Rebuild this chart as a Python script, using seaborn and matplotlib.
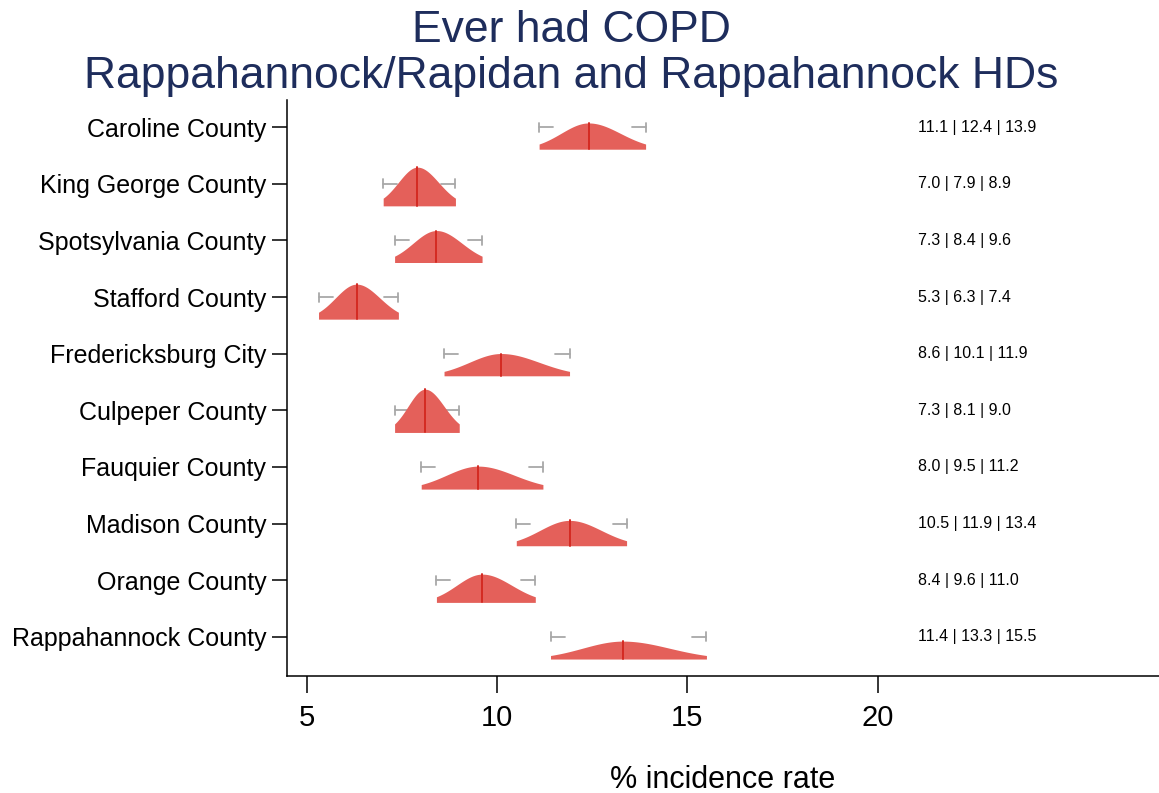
import numpy as np
import pandas as pd
import matplotlib
matplotlib.use("Agg")
import matplotlib.pyplot as plt
import seaborn as sns

# Values: lower | mean | upper
counties = ["Caroline County", "King George County", "Spotsylvania County",
            "Stafford County", "Fredericksburg City", "Culpeper County",
            "Fauquier County", "Madison County", "Orange County",
            "Rappahannock County"]
lower = [11.1, 7.0, 7.3, 5.3, 8.6, 7.3, 8.0, 10.5, 8.4, 11.4]
mean = [12.4, 7.9, 8.4, 6.3, 10.1, 8.1, 9.5, 11.9, 9.6, 13.3]
upper = [13.9, 8.9, 9.6, 7.4, 11.9, 9.0, 11.2, 13.4, 11.0, 15.5]

df = pd.DataFrame({"county": counties, "lower": lower, "mean": mean, "upper": upper})

sns.set_theme(style="ticks")
plt.rcParams["font.family"] = ["Liberation Sans", "DejaVu Sans"]

fig = plt.figure(figsize=(11.59, 7.93), dpi=100)
ax = fig.add_axes([0.2476, 0.1475, 0.7524, 0.7265])

fill_col = "#e4605a"
line_col = "#d42a22"
gray = "#a8a8a8"
z = 1.8
scale = 0.83 * 1.96 / z   # rows per density unit
base_off = 0.39           # baseline offset below the row centre
cap_len = 0.37

for i, r in df.iterrows():
    s1 = (r["mean"] - r["lower"]) / z
    s2 = (r["upper"] - r["mean"]) / z
    peak = 2 / (np.sqrt(2 * np.pi) * (s1 + s2))
    xs = np.linspace(r["lower"], r["upper"], 200)
    sd = np.where(xs < r["mean"], s1, s2)
    dens = peak * np.exp(-0.5 * ((xs - r["mean"]) / sd) ** 2)
    base = i + base_off
    # short whiskers with caps at the interval ends
    ax.plot([r["lower"], r["lower"] + cap_len], [i, i], color=gray, lw=1.3, zorder=1)
    ax.plot([r["upper"] - cap_len, r["upper"]], [i, i], color=gray, lw=1.3, zorder=1)
    ax.plot([r["lower"], r["lower"]], [i - 0.08, i + 0.08], color=gray, lw=1.3, zorder=1)
    ax.plot([r["upper"], r["upper"]], [i - 0.08, i + 0.08], color=gray, lw=1.3, zorder=1)
    ax.fill_between(xs, base, base - dens * scale, color=fill_col, lw=0, zorder=2)
    ax.plot([r["mean"], r["mean"]], [base, base - peak * scale], color=line_col, lw=1.4, zorder=3)
    ax.text(21.05, i, f"{r['lower']:.1f} | {r['mean']:.1f} | {r['upper']:.1f}",
            ha="left", va="center", fontsize=11.5, color="black")

ax.set_xlim(4.47, 27.4)
ax.set_ylim(9.69, -0.48)
ax.set_xticks([5, 10, 15, 20])
ax.set_yticks(range(len(counties)))
ax.set_yticklabels(counties)
ax.tick_params(axis="y", labelsize=18, length=11, width=1.1, color="black",
               labelcolor="black", pad=4)
ax.tick_params(axis="x", labelsize=21, length=12, width=1.1, color="black",
               labelcolor="black", pad=8)
for s in ["top", "right"]:
    ax.spines[s].set_visible(False)
for s in ["left", "bottom"]:
    ax.spines[s].set_color("black")
    ax.spines[s].set_linewidth(1.1)

ax.set_xlabel("% incidence rate", fontsize=22, color="black", labelpad=24)
fig.text(0.493, 0.962, "Ever had COPD", ha="center", va="center", fontsize=32, color="#1e2d5c")
fig.text(0.493, 0.903, "Rappahannock/Rapidan and Rappahannock HDs", ha="center", va="center",
         fontsize=32, color="#1e2d5c")

fig.savefig("out.png", dpi=100)
